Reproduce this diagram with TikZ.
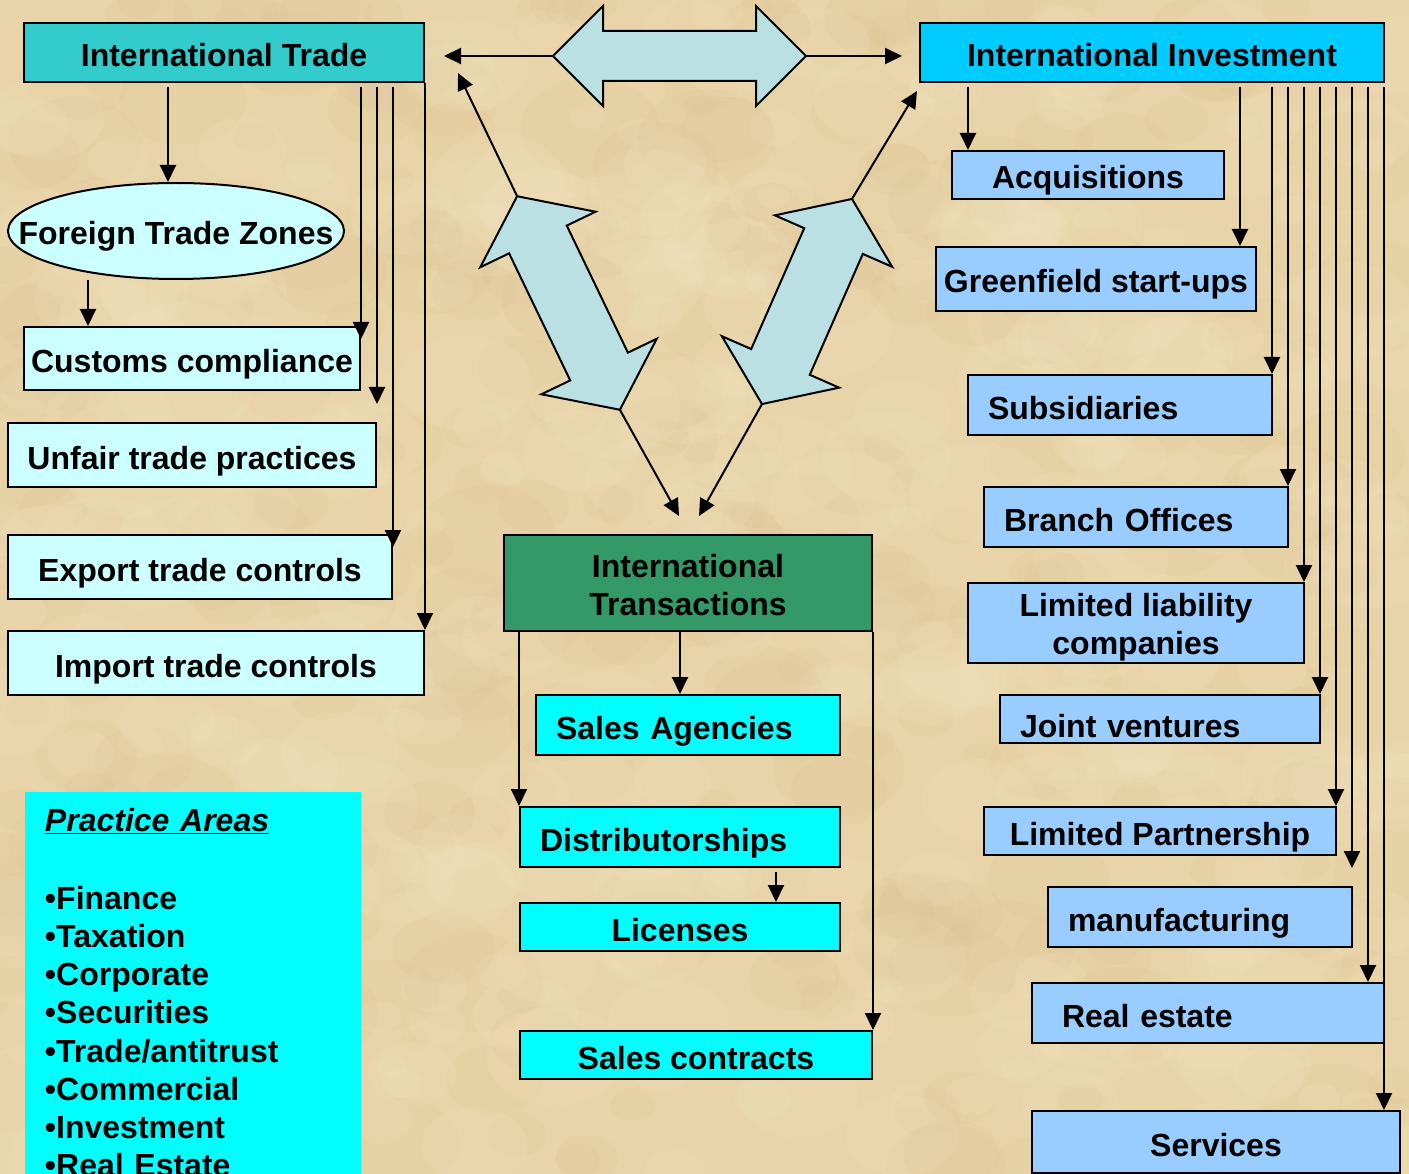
\documentclass[tikz,border=0pt]{standalone}
\usepackage{fontspec}
\setmainfont{Liberation Sans}
\usetikzlibrary{arrows.meta,shapes.geometric,positioning,calc}

\definecolor{parch}{HTML}{E8D4A8}
\definecolor{parchdark}{HTML}{CDB07C}
\definecolor{parchlight}{HTML}{F7EACB}
\definecolor{tradeteal}{HTML}{33CCCC}
\definecolor{investblue}{HTML}{00CCFF}
\definecolor{palecyan}{HTML}{CCFFFF}
\definecolor{skyblue}{HTML}{99CCFF}
\definecolor{aqua}{HTML}{00FFFF}
\definecolor{seagreen}{HTML}{339966}
\definecolor{arrowblue}{HTML}{BAE0E4}

\tikzset{
  every node/.style={font=\bfseries\fontsize{32}{38}\selectfont, inner sep=0pt},
  oneline/.style={text height=28pt, text depth=0pt},
  tradebox/.style={rectangle, draw, fill=palecyan, oneline},
  investbox/.style={rectangle, draw, fill=skyblue, oneline},
  dealbox/.style={rectangle, draw, fill=aqua, oneline},
  lft/.style={align=left, inner xsep=20pt, text width=#1},
  bigarrow/.style={draw, fill=arrowblue, line join=miter},
  pics/dblarrow/.style n args={4}{code={
    \path[bigarrow] ({-#1/2},0) -- ({-#1/2+#2},{#3/2}) -- ({-#1/2+#2},{#4/2})
      -- ({#1/2-#2},{#4/2}) -- ({#1/2-#2},{#3/2}) -- ({#1/2},0)
      -- ({#1/2-#2},{-#3/2}) -- ({#1/2-#2},{-#4/2}) -- ({-#1/2+#2},{-#4/2})
      -- ({-#1/2+#2},{-#3/2}) -- cycle;
    \coordinate (-a) at ({#1/2},0);
    \coordinate (-b) at ({-#1/2},0);
  }}
}

\begin{document}
\begin{tikzpicture}[x=1pt, y=-1pt, line width=2pt,
  >={Triangle[length=17pt,width=16pt]}]

\clip[use as bounding box] (0,0) rectangle (1409,1174);

% parchment background
\fill[parch] (0,0) rectangle (1409,1174);
\pgfmathsetseed{11}
\foreach \i in {1,...,320}{
  \pgfmathsetmacro\px{rnd*1409}
  \pgfmathsetmacro\py{rnd*1174}
  \pgfmathsetmacro\rr{10+rnd*40}
  \fill[parchdark, opacity=0.07] (\px,\py) ellipse[x radius=1.4*\rr pt, y radius=\rr pt];
}
\foreach \i in {1,...,320}{
  \pgfmathsetmacro\px{rnd*1409}
  \pgfmathsetmacro\py{rnd*1174}
  \pgfmathsetmacro\rr{10+rnd*40}
  \fill[parchlight, opacity=0.12] (\px,\py) ellipse[x radius=1.4*\rr pt, y radius=\rr pt];
}

%--------------------------- international trade ------------
\node[rectangle, draw, fill=tradeteal, oneline, minimum width=400, minimum height=59]
  (IT) at (224,52.5) {International Trade};
\node[ellipse, draw, fill=palecyan, minimum width=336, minimum height=96,
  label={[oneline]center:Foreign Trade Zones}] (FTZ) at (176,231) {};
\node[tradebox, minimum width=336, minimum height=63] (Cust) at (192,358.5) {Customs compliance};
\node[tradebox, minimum width=368, minimum height=64] (Unfair) at (192,455) {Unfair trade practices};
\node[tradebox, minimum width=384, minimum height=64] (Export) at (200,567) {Export trade controls};
\node[tradebox, minimum width=416, minimum height=64] (Import) at (216,663) {Import trade controls};

\draw[->, shorten <=4pt] (168,0 |- IT.south) -- (168,0 |- FTZ.north);
\draw[->] (88,0 |- FTZ.south) -- (88,0 |- Cust.north);
\draw[->, shorten <=4pt, shorten >=-13pt] (Cust.north east |- IT.south) -- (Cust.north east);
\draw[->, shorten <=4pt, shorten >=18pt] (Unfair.north east |- IT.south) -- (Unfair.north east);
\draw[->, shorten <=4pt, shorten >=-13pt] (Export.north east |- IT.south) -- (Export.north east);
\draw[->] (IT.south east) -- (Import.north east);

%--------------------------- international investment ------------
\node[rectangle, draw, fill=investblue, oneline, minimum width=464, minimum height=59]
  (IIB) at (1152,52.5) {International Investment};
\node[investbox, minimum width=272, minimum height=48] (Acq) at (1088,175) {Acquisitions};
\node[investbox, minimum width=320, minimum height=64] (Green) at (1096,279) {Greenfield start-ups};
\node[investbox, minimum height=60, lft=264] (Subs) at (1120,405) {Subsidiaries};
\node[investbox, minimum height=60, lft=264] (Branch) at (1136,517) {Branch Offices};
\node[rectangle, draw, fill=skyblue, minimum width=336, minimum height=80, align=center]
  (LLC) at (1136,623) {\rule{0pt}{31.5pt}Limited liability\\companies};
\node[investbox, minimum height=48, lft=280, text height=36pt] (JV) at (1160,719) {Joint ventures};
\node[investbox, minimum width=352, minimum height=48] (LP) at (1160,831) {Limited Partnership};
\node[investbox, minimum height=60, lft=264] (Manuf) at (1200,917) {manufacturing};
\node[investbox, minimum height=60, lft=292, inner xsep=30pt] (RealEst) at (1208,1013) {Real estate};
\node[investbox, minimum width=368, minimum height=62] (Serv) at (1216,1142) {Services};

\foreach \x/\n/\s in {968/Acq/0pt, 1240/Green/0pt, 1272/Subs/0pt, 1288/Branch/0pt,
    1304/LLC/0pt, 1320/JV/0pt, 1336/LP/0pt, 1352/Manuf/18pt, 1368/RealEst/0pt, 1384/Serv/0pt}
  \draw[->, shorten <=4pt, shorten >=\s] (\x,0 |- IIB.south) -- (\x,0 |- \n.north);

%--------------------------- international transactions ------------
\node[rectangle, draw, fill=seagreen, minimum width=368, minimum height=96, align=center]
  (ITR) at (688,583) {\rule{0pt}{27.5pt}International\\Transactions};
\node[dealbox, minimum height=60, lft=264] (SalesAg) at (688,725) {Sales Agencies};
\node[dealbox, minimum height=60, lft=280] (Distr) at (680,837) {Distributorships};
\node[dealbox, minimum width=320, minimum height=48] (Lic) at (680,927) {Licenses};
\node[dealbox, minimum width=352, minimum height=48] (SalesCon) at (696,1055) {Sales contracts};

\draw[->] (680,0 |- ITR.south) -- (680,0 |- SalesAg.north);
\draw[->] (Distr.north west |- ITR.south) -- (Distr.north west);
\draw[->, shorten <=4pt] (776,0 |- Distr.south) -- (776,0 |- Lic.north);
\draw[->] (ITR.south east) -- (SalesCon.north east);

%--------------------------- big double arrows ------------
\pic (HA) at (679.5,56) {dblarrow={253}{50}{100}{50}};
\pic[rotate=115.7] (LD) at (568.5,303) {dblarrow={237}{48}{128}{64}};
\pic[rotate=66.3] (RD) at (807,301.5) {dblarrow={224}{46}{128}{64}};

\draw[->, shorten >=19pt] (HA-b) -- (HA-b -| IT.east);
\draw[->, shorten >=17pt] (HA-a) -- (HA-a -| IIB.west);
\draw[->] (LD-a) -- ($(IT.south east)+(33,-10)$);
\draw[->] (RD-a) -- ($(IIB.south west)+(-2,8)$);
\draw[->] (LD-b) -- ($(ITR.north)+(-9,-18)$);
\draw[->] (RD-b) -- ($(ITR.north)+(11,-18)$);

%--------------------------- practice areas ------------
\node[fill=aqua, anchor=north west, text width=296, inner xsep=20pt, inner ysep=16pt, align=left,
  font=\bfseries\fontsize{32}{38.2}\selectfont]
  (PA) at (24,791) {\textit{\underline{Practice Areas}}\\[40pt]
  •Finance\\•Taxation\\•Corporate\\•Securities\\•Trade/antitrust\\•Commercial\\•Investment\\•Real Estate};

\end{tikzpicture}
\end{document}
